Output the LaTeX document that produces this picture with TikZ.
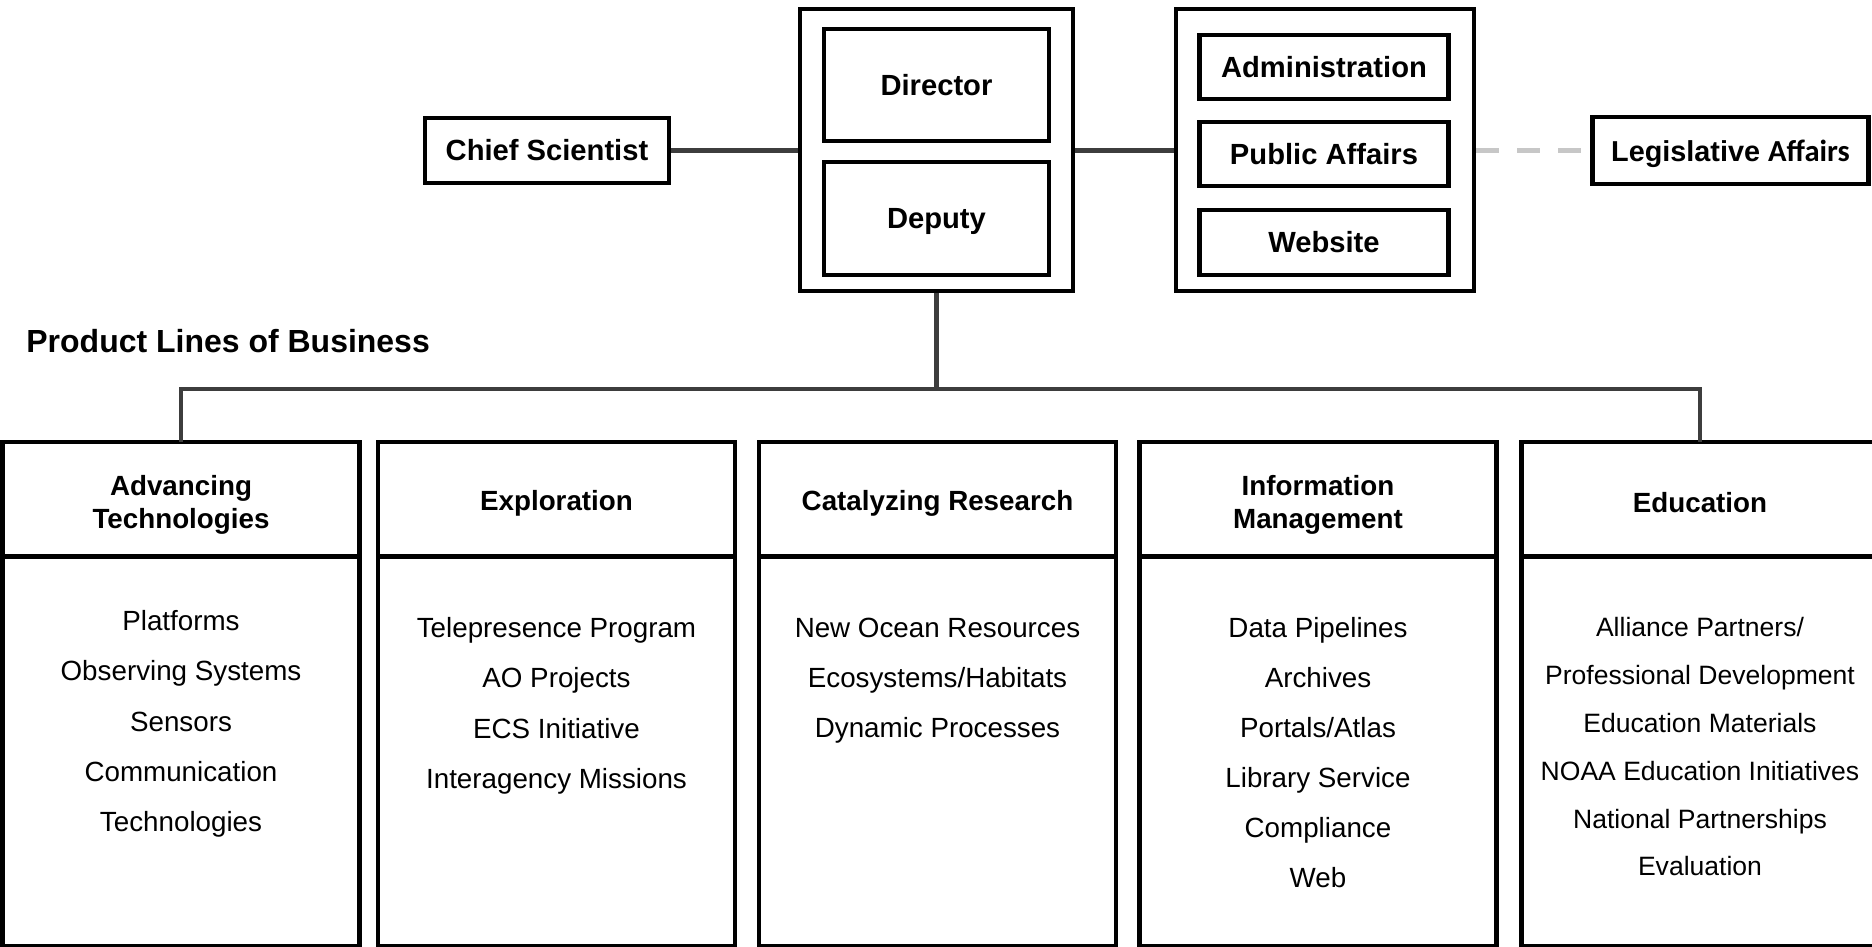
\documentclass[tikz,border=0pt]{standalone}
\usepackage{fontspec}
\setmainfont{Liberation Sans}
\newfontfamily\carlitofont{Carlito}
\begin{document}
\begin{tikzpicture}[x=1cm,y=1cm,
orgBox/.style={draw=black,line width=1.2pt,inner sep=0pt,font=\fontsize{8.3}{10}\selectfont\bfseries},
orgLink/.style={draw=black!76,line width=1.3pt},
liaisonLink/.style={draw=black!22,line width=1.4pt,dash pattern=on 0.23cm off 0.18cm},
laneHead/.style={draw=black,line width=1.2pt,outer sep=0pt,minimum width=3.57cm,minimum height=1.146cm,align=center,
  font=\fontsize{7.9}{9.5}\selectfont\bfseries,execute at begin node=\rule{0pt}{8pt}},
laneBody/.style={draw=black,line width=1.2pt,outer sep=0.25pt,minimum width=3.57cm,minimum height=3.885cm,anchor=north},
laneItem/.style={font=\fontsize{7.9}{9.5}\selectfont,text height=5.6pt,text depth=1.6pt,inner sep=0pt}]
\path[use as bounding box] (0,0) rectangle (18.72,9.47);
% office of the director
\node[orgBox,minimum width=2.73cm,minimum height=2.82cm] (dirBox) at (9.365,7.966) {};
\node[orgBox,minimum width=2.25cm,minimum height=1.12cm] (director) at (9.365,8.62) {Director};
\node[orgBox,minimum width=2.25cm,minimum height=1.13cm,text depth=0pt] (deputy) at (9.365,7.285) {Deputy};
\node[orgBox,minimum width=2.44cm,minimum height=0.65cm] (chief) at (5.47,7.966) {Chief Scientist};
% staff offices
\node[orgBox,minimum width=2.98cm,minimum height=2.82cm] (staffBox) at (13.25,7.966) {};
\node[orgBox,minimum width=2.49cm,minimum height=0.645cm] (admin) at (13.24,8.80) {Administration};
\node[orgBox,minimum width=2.49cm,minimum height=0.645cm] (pubAff) at (13.24,7.93) {Public Affairs};
\node[orgBox,minimum width=2.49cm,minimum height=0.645cm] (website) at (13.24,7.046) {Website};
\node[orgBox,minimum width=2.76cm,minimum height=0.67cm,text depth=0pt] (legis) at (17.305,7.966) {\fontsize{8.2}{10}\selectfont Legislative {\carlitofont\fontsize{8.7}{10}\selectfont Affairs}};
\draw[orgLink] (chief.east) -- (dirBox.west);
\draw[orgLink] (dirBox.east) -- (staffBox.west);
\draw[liaisonLink] (staffBox.east) -- (legis.west);
\node[anchor=west,font=\fontsize{9.1}{11}\selectfont\bfseries] (plob) at (0.14,6.056) {Product Lines of Business};
% product lines
\node[laneHead] (advHead) at (1.81,4.48) {\rule{0pt}{9.2pt}Advancing\\Technologies};
\node[laneBody] (advBody) at (advHead.south) {};
\foreach \t [count=\i] in {Platforms,Observing Systems,Sensors,Communication,Technologies}
  \node[laneItem] (adv-\i) at (1.81,{3.733-0.501*\i}) {\t};
\node[laneHead] (expHead) at (5.565,4.48) {Exploration};
\node[laneBody] (expBody) at (expHead.south) {};
\foreach \t [count=\i] in {Telepresence Program,AO Projects,ECS Initiative,Interagency Missions}
  \node[laneItem] (exp-\i) at (5.565,{3.67-0.504*\i}) {\t};
\node[laneHead] (catHead) at (9.375,4.48) {Catalyzing Research};
\node[laneBody] (catBody) at (catHead.south) {};
\foreach \t [count=\i] in {New Ocean Resources,Ecosystems/Habitats,Dynamic Processes}
  \node[laneItem] (cat-\i) at (9.375,{3.668-0.501*\i}) {\t};
\node[laneHead] (infHead) at (13.18,4.48) {\rule{0pt}{9.2pt}Information\\Management};
\node[laneBody] (infBody) at (infHead.south) {};
\foreach \t [count=\i] in {Data Pipelines,Archives,Portals/Atlas,Library Service,Compliance,Web}
  \node[laneItem] (inf-\i) at (13.18,{3.668-0.501*\i}) {\t};
\node[laneHead] (eduHead) at (17.0,4.48) {Education};
\node[laneBody] (eduBody) at (eduHead.south) {};
\foreach \t [count=\i] in {Alliance Partners/,Professional Development,Education Materials,NOAA Education Initiatives,National Partnerships,Evaluation}
  \node[laneItem,font=\fontsize{7.55}{9}\selectfont] (edu-\i) at (17.0,{3.65-0.478*\i}) {\t};
% reporting lines
\coordinate (bus) at (9.365,5.58);
\draw[orgLink] (dirBox.south) -- (bus);
\draw[orgLink] (advHead.north) |- (bus) -| (eduHead.north);
\end{tikzpicture}
\end{document}
